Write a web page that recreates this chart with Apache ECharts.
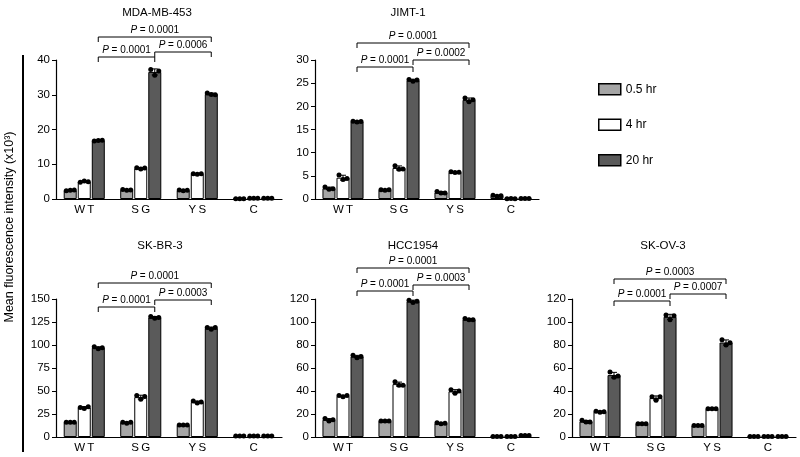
<!DOCTYPE html>
<html>
<head>
<meta charset="utf-8">
<script src="https://cdn.jsdelivr.net/npm/echarts@6/dist/echarts.min.js"></script>
<style>
  html, body { margin: 0; padding: 0; background: #fff; }
  #chart { width: 800px; height: 457px; }
</style>
</head>
<body>
<div id="chart"></div>
<script>
// categories / series
var categories = ['WT', 'SG', 'YS', 'C'];
var times = ['0.5 hr', '4 hr', '20 hr'];
var panelTitles = ['MDA-MB-453', 'JIMT-1', 'SK-BR-3', 'HCC1954', 'SK-OV-3'];
var yMax = [40, 30, 150, 120, 120];
var yStep = [10, 5, 25, 20, 20];

// replicates (x10^3), per category WT, SG, YS, C
var mda_05 = [[2.4, 2.5, 2.6], [2.7, 2.5, 2.6], [2.6, 2.4, 2.5], [0.1, 0.1, 0.1]];
var mda_4  = [[4.8, 5.2, 5.0], [9.0, 8.6, 8.9], [7.3, 7.1, 7.3], [0.2, 0.2, 0.2]];
var mda_20 = [[16.7, 16.8, 16.9], [37.3, 35.6, 36.8], [30.5, 30.1, 30.0], [0.2, 0.2, 0.2]];

var jimt_05 = [[2.6, 2.1, 2.2], [2.0, 1.9, 2.0], [1.6, 1.3, 1.3], [0.8, 0.6, 0.7]];
var jimt_4  = [[5.2, 4.2, 4.4], [7.2, 6.4, 6.5], [5.9, 5.7, 5.8], [0.05, 0.1, 0.05]];
var jimt_20 = [[16.8, 16.6, 16.7], [25.8, 25.4, 25.7], [21.8, 21.0, 21.4], [0.1, 0.1, 0.1]];

var skbr_05 = [[16, 16, 16], [16, 15, 16], [13, 13, 13], [1, 1, 1]];
var skbr_4  = [[32, 31, 33], [45, 41, 44], [39, 37, 38], [1, 1, 1]];
var skbr_20 = [[98, 96, 97], [131, 129, 130], [119, 117, 119], [1, 1, 1]];

var hcc_05 = [[16, 14, 15], [14, 14, 14], [12.5, 11.5, 12], [0.5, 0.5, 0.5]];
var hcc_4  = [[36, 35, 36], [48, 45, 45], [41, 38, 40], [0.5, 0.5, 0.5]];
var hcc_20 = [[71, 69, 70], [119, 117, 118], [103, 102, 102], [1.2, 1.2, 1.2]];

var skov_05 = [[14.5, 13, 13], [11.5, 11.5, 11.5], [10, 10, 10], [0.5, 0.5, 0.5]];
var skov_4  = [[22.5, 21.5, 22], [35, 32, 35], [24.5, 24.5, 24.5], [0.5, 0.5, 0.5]];
var skov_20 = [[56.5, 52, 53], [106, 102, 105.5], [84.5, 80, 82], [0.5, 0.5, 0.5]];

var panelData = [
    [mda_05, mda_4, mda_20],
    [jimt_05, jimt_4, jimt_20],
    [skbr_05, skbr_4, skbr_20],
    [hcc_05, hcc_4, hcc_20],
    [skov_05, skov_4, skov_20]
];

// P values: WT-SG, SG-YS, WT-YS
var pValues = [
    ['0.0001', '0.0006', '0.0001'],
    ['0.0001', '0.0002', '0.0001'],
    ['0.0001', '0.0003', '0.0001'],
    ['0.0001', '0.0003', '0.0001'],
    ['0.0001', '0.0007', '0.0003']
];

// layout
var grids = [
    { left: 56, top: 60, width: 226, height: 139 },
    { left: 315, top: 60, width: 224, height: 139 },
    { left: 56, top: 299, width: 226, height: 138 },
    { left: 315, top: 299, width: 224, height: 138 },
    { left: 572, top: 299, width: 224, height: 138 }
];
var titlePos = [[152, 2], [403, 2], [155, 235], [408, 235], [658, 235]];
// bracket line offsets from grid top (px): WT-SG, SG-YS, WT-YS
var bracketOff = [[-3, -8, -23], [7, 0, -17], [8, 1, -16], [-8, -14, -31], [2, -5, -20]];

var barColors = ['#a5a5a5', '#ffffff', '#5a5a5a'];
var FONT = 'Liberation Sans';
var BW = 13, STEP = 14;

var mean = function (r) { return (r[0] + r[1] + r[2]) / 3; };

var dotsRender = function (params, api) {
    var cat = api.value(0), t = api.value(1);
    var r = [api.value(2), api.value(3), api.value(4)];
    var m = mean(r);
    var sd = Math.sqrt((Math.pow(r[0] - m, 2) + Math.pow(r[1] - m, 2) + Math.pow(r[2] - m, 2)) / 2);
    var cx = api.coord([cat, 0])[0] + (t - 1) * STEP;
    var yT = api.coord([cat, m + sd])[1];
    var yB = api.coord([cat, Math.max(m - sd, 0)])[1];
    var ls = { stroke: '#000', lineWidth: 1 };
    var ch = [
        { type: 'line', shape: { x1: cx, y1: yT, x2: cx, y2: yB }, style: ls },
        { type: 'line', shape: { x1: cx - 3, y1: yT, x2: cx + 3, y2: yT }, style: ls },
        { type: 'line', shape: { x1: cx - 3, y1: yB, x2: cx + 3, y2: yB }, style: ls }
    ];
    for (var k = 0; k < 3; k++) {
        ch.push({
            type: 'circle',
            shape: { cx: cx + (k - 1) * 4, cy: api.coord([cat, r[k]])[1], r: 2.5 },
            style: { fill: '#000' }
        });
    }
    return { type: 'group', children: ch };
};

var makeBracketRender = function (p) {
    return function (params, api) {
        var a = api.value(0), b = api.value(1), idx = params.dataIndex;
        var top = api.coord([0, yMax[p]])[1];
        var x1 = api.coord([a, 0])[0] + STEP;
        var x2 = api.coord([b, 0])[0] + STEP;
        var y = top + bracketOff[p][idx];
        var ls = { stroke: '#000', lineWidth: 1, fill: null };
        return {
            type: 'group',
            children: [
                { type: 'polyline', shape: { points: [[x1, y + 5], [x1, y], [x2, y], [x2, y + 5]] }, style: ls },
                {
                    type: 'text',
                    style: {
                        x: (x1 + x2) / 2, y: y - 1.5,
                        text: '{i|P} = ' + pValues[p][idx],
                        align: 'center', verticalAlign: 'bottom',
                        fontSize: 10, fontFamily: FONT, fill: '#000',
                        rich: { i: { fontStyle: 'italic', fontSize: 10, fontFamily: FONT, fill: '#000' } }
                    }
                }
            ]
        };
    };
};

var option = {
    animation: false,
    backgroundColor: '#fff',
    title: [],
    grid: [],
    xAxis: [],
    yAxis: [],
    series: [],
    legend: {
        data: times,
        orient: 'vertical',
        left: 593, top: 78,
        itemWidth: 22, itemHeight: 11, itemGap: 23,
        icon: 'rect',
        itemStyle: { borderColor: '#000', borderWidth: 1.5 },
        textStyle: { fontSize: 12, fontFamily: FONT, color: '#000' }
    },
    graphic: [
        { type: 'line', shape: { x1: 23, y1: 55, x2: 23, y2: 452 }, style: { stroke: '#000', lineWidth: 2 } },
        {
            type: 'text', x: 10, y: 227, rotation: Math.PI / 2,
            style: {
                text: 'Mean fluorescence intensity (x10³)',
                fontSize: 12.5, fontFamily: FONT, fill: '#000',
                align: 'center', verticalAlign: 'middle'
            }
        }
    ]
};

for (var p = 0; p < 5; p++) {
    option.title.push({
        text: panelTitles[p], left: titlePos[p][0], top: titlePos[p][1], textAlign: 'center',
        textStyle: { fontSize: 11.5, fontWeight: 'normal', fontFamily: FONT, color: '#000' }
    });
    option.grid.push(grids[p]);
    option.xAxis.push({
        type: 'category', gridIndex: p, data: categories,
        axisLine: { lineStyle: { color: '#000', width: 1.2 } },
        axisTick: { show: false },
        axisLabel: {
            color: '#000', fontSize: 11.5, fontFamily: FONT, margin: 5,
            formatter: function (v) { return v.split('').join('\u2009'); }
        }
    });
    option.yAxis.push({
        type: 'value', gridIndex: p, min: 0, max: yMax[p], interval: yStep[p],
        axisLine: { show: true, lineStyle: { color: '#000', width: 1.2 } },
        axisTick: { show: true, length: 4, lineStyle: { color: '#000' } },
        axisLabel: { color: '#000', fontSize: 11.5, fontFamily: FONT, margin: 6 },
        splitLine: { show: false }
    });
    var dots = [];
    for (var t = 0; t < 3; t++) {
        var reps = panelData[p][t];
        option.series.push({
            type: 'bar', name: times[t], xAxisIndex: p, yAxisIndex: p,
            data: reps.map(mean),
            barWidth: BW, barGap: '8%',
            itemStyle: { color: barColors[t], borderColor: '#000', borderWidth: 1 }
        });
        for (var c = 0; c < 4; c++) {
            dots.push([c, t, reps[c][0], reps[c][1], reps[c][2]]);
        }
    }
    option.series.push({
        type: 'custom', xAxisIndex: p, yAxisIndex: p, data: dots,
        renderItem: dotsRender, z: 5, silent: true
    });
    option.series.push({
        type: 'custom', xAxisIndex: p, yAxisIndex: p, clip: false,
        data: [[0, 1, 0], [1, 2, 0], [0, 2, 0]],
        renderItem: makeBracketRender(p), z: 5, silent: true
    });
}

var myChart = echarts.init(document.getElementById('chart'), null, { renderer: 'canvas' });
myChart.setOption(option);
</script>
</body>
</html>
